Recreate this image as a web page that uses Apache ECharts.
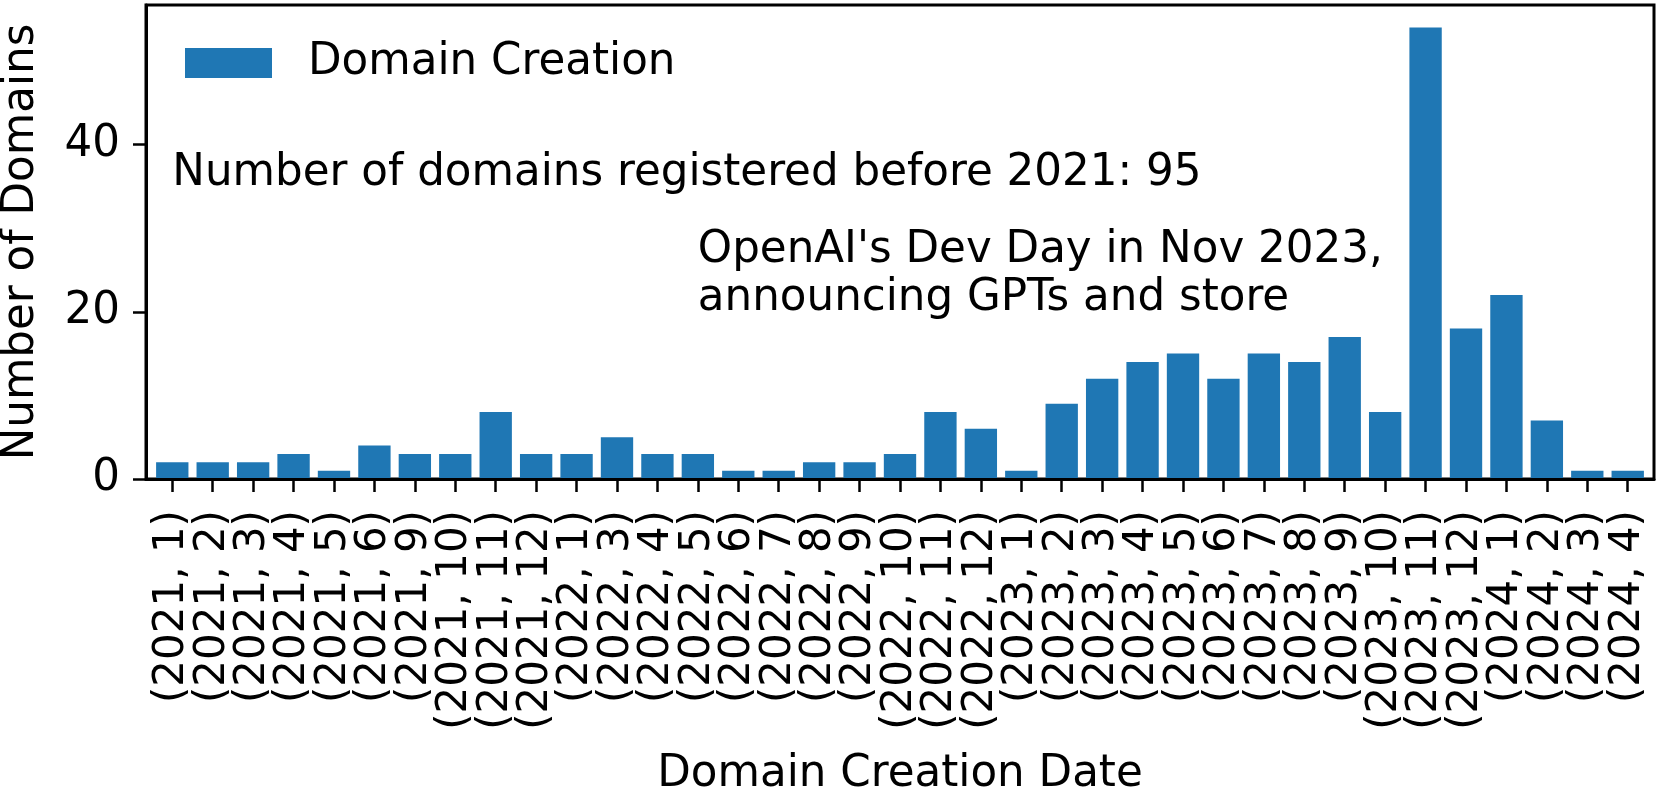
<!DOCTYPE html>
<html>
<head>
<meta charset="utf-8">
<script src="https://cdn.jsdelivr.net/npm/echarts@6/dist/echarts.min.js"></script>
<style>
html,body{margin:0;padding:0;background:#fff;}
#chart{width:1661px;height:789px;}
</style>
</head>
<body>
<div id="chart"></div>
<script>
const categories = ['(2021, 1)','(2021, 2)','(2021, 3)','(2021, 4)','(2021, 5)','(2021, 6)','(2021, 9)','(2021, 10)','(2021, 11)','(2021, 12)',
  '(2022, 1)','(2022, 3)','(2022, 4)','(2022, 5)','(2022, 6)','(2022, 7)','(2022, 8)','(2022, 9)','(2022, 10)','(2022, 11)','(2022, 12)',
  '(2023, 1)','(2023, 2)','(2023, 3)','(2023, 4)','(2023, 5)','(2023, 6)','(2023, 7)','(2023, 8)','(2023, 9)','(2023, 10)','(2023, 11)','(2023, 12)',
  '(2024, 1)','(2024, 2)','(2024, 3)','(2024, 4)'];
const values = [2,2,2,3,1,4,3,3,8,3,
  3,5,3,3,1,1,2,2,3,8,6,
  1,9,12,14,15,12,15,14,17,8,54,18,
  22,7,1,1];
const yTickValues = [0,20,40];
const seriesName = 'Domain Creation';
const note1 = 'Number of domains registered before 2021: 95';
const note1Pos = [0, 35];
const note2 = "OpenAI's Dev Day in Nov 2023,\nannouncing GPTs and store";
const note2Pos = [13, 20];

const FONT = 'DejaVu Sans';
const FS = 43.6;
const YMAX = 56.7;
const chart = echarts.init(document.getElementById('chart'), null, {renderer:'canvas'});
const black = {color:'#000', width:3};

const option = {
  animation: false,
  backgroundColor: '#fff',
  textStyle: {fontFamily: FONT},
  grid: [
    {left:152.06, right:13.06, top:5, bottom:310, outerBoundsMode:'none', containLabel:false},
    {left:146, right:7, top:5, bottom:310, show:true, borderColor:'#000', borderWidth:3, backgroundColor:'transparent', outerBoundsMode:'none', containLabel:false}
  ],
  legend: {
    data:[seriesName], left:185, top:41, padding:0, icon:'rect', itemWidth:87, itemHeight:30,
    textStyle:{fontFamily:FONT, fontSize:FS, color:'#000', padding:[0,0,0,31], lineHeight:44}
  },
  xAxis: [
    {
      gridIndex:0, type:'category', data:categories, boundaryGap:true, z:10,
      name:'Domain Creation Date', nameLocation:'middle', nameGap:274,
      nameTextStyle:{fontFamily:FONT, fontSize:FS, color:'#000'},
      axisLine:{show:false},
      axisTick:{show:true, alignWithLabel:true, interval:0, length:13, lineStyle:{color:'#000', width:2.5}},
      axisLabel:{show:true, interval:0, rotate:90, margin:31, hideOverlap:false,
        fontFamily:FONT, fontSize:42, color:'#000'},
      splitLine:{show:false}
    },
    {
      gridIndex:1, type:'value', min:0, max:1, z:10,
      axisLine:{show:true, onZero:false, lineStyle:black},
      axisTick:{show:false}, axisLabel:{show:false}, splitLine:{show:false}
    }
  ],
  yAxis: [
    {gridIndex:0, type:'value', min:0, max:YMAX, show:false, splitLine:{show:false}},
    {
      gridIndex:1, type:'value', min:0, max:YMAX, z:10,
      name:'Number of Domains', nameLocation:'middle', nameGap:102,
      nameTextStyle:{fontFamily:FONT, fontSize:FS, color:'#000'},
      axisLine:{show:true, onZero:false, lineStyle:black},
      axisTick:{show:true, length:13, lineStyle:{color:'#000', width:2.5}, customValues:yTickValues},
      axisLabel:{show:true, margin:26, fontFamily:FONT, fontSize:FS, color:'#000', customValues:yTickValues},
      splitLine:{show:false}
    }
  ],
  series: [{
    name: seriesName, type:'bar', xAxisIndex:0, yAxisIndex:0, barWidth:'80%',
    data: values,
    itemStyle:{color:'#1f77b4'}
  }]
};
chart.setOption(option);

const p1 = chart.convertToPixel({gridIndex:0}, note1Pos);
const p2 = chart.convertToPixel({gridIndex:0}, note2Pos);
chart.setOption({
  graphic: [
    {type:'text', x:p1[0], y:p1[1]-12.8, z:20, style:{text:note1, fontFamily:FONT, fontSize:FS, fill:'#000', textAlign:'left', textVerticalAlign:'middle', verticalAlign:'middle'}},
    {type:'text', x:p2[0], y:p2[1]-37.3, z:20, style:{text:note2, fontFamily:FONT, fontSize:FS, lineHeight:48.5, fill:'#000', textAlign:'left', textVerticalAlign:'middle', verticalAlign:'middle'}}
  ]
});
</script>
</body>
</html>
